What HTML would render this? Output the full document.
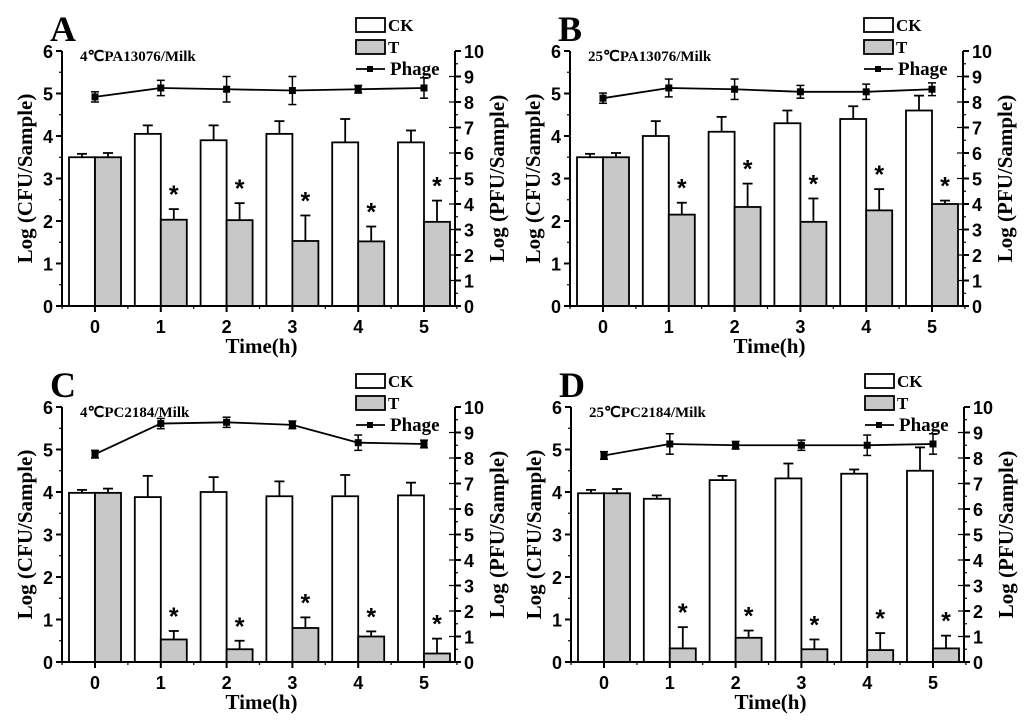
<!DOCTYPE html>
<html><head><meta charset="utf-8"><style>
body{margin:0;background:#fff;}
svg{display:block;}
.tk{font-family:"Liberation Sans",sans-serif;font-weight:bold;font-size:18px;}
.sr{font-family:"Liberation Serif",serif;font-weight:bold;}
</style></head><body>
<svg id="chart" width="1024" height="723" viewBox="0 0 1024 723" xmlns="http://www.w3.org/2000/svg"></svg>
<script>
const categories=[0,1,2,3,4,5];
const panelLetters=["A","B","C","D"];
const panelTitles=["4℃PA13076/Milk","25℃PA13076/Milk","4℃PC2184/Milk","25℃PC2184/Milk"];
const ckA=[3.5,4.05,3.9,4.05,3.85,3.85], ckErrA=[0.08,0.2,0.35,0.3,0.55,0.28];
const tA=[3.5,2.03,2.02,1.53,1.52,1.98], tErrA=[0.1,0.25,0.4,0.6,0.35,0.5];
const phA=[8.2,8.55,8.5,8.45,8.5,8.55], phErrA=[0.2,0.3,0.5,0.55,0.15,0.4];
const ckB=[3.5,4.0,4.1,4.3,4.4,4.6], ckErrB=[0.08,0.35,0.35,0.3,0.3,0.35];
const tB=[3.5,2.15,2.33,1.98,2.25,2.4], tErrB=[0.1,0.28,0.55,0.55,0.5,0.08];
const phB=[8.15,8.55,8.5,8.4,8.4,8.5], phErrB=[0.2,0.35,0.4,0.25,0.3,0.25];
const ckC=[3.98,3.88,4.0,3.9,3.9,3.92], ckErrC=[0.07,0.5,0.35,0.35,0.5,0.3];
const tC=[3.98,0.53,0.3,0.8,0.6,0.2], tErrC=[0.1,0.2,0.2,0.25,0.12,0.35];
const phC=[8.15,9.35,9.4,9.3,8.6,8.55], phErrC=[0.15,0.2,0.2,0.15,0.3,0.15];
const ckD=[3.97,3.84,4.28,4.32,4.43,4.5], ckErrD=[0.08,0.08,0.1,0.35,0.1,0.55];
const tD=[3.97,0.32,0.57,0.3,0.28,0.32], tErrD=[0.1,0.5,0.17,0.23,0.4,0.3];
const phD=[8.1,8.55,8.5,8.5,8.5,8.55], phErrD=[0.15,0.4,0.15,0.2,0.4,0.4];
const leftTicks=[0,1,2,3,4,5,6];
const rightTicks=[0,1,2,3,4,5,6,7,8,9,10];
const ckSets=[ckA,ckB,ckC,ckD], ckErrSets=[ckErrA,ckErrB,ckErrC,ckErrD];
const tSets=[tA,tB,tC,tD], tErrSets=[tErrA,tErrB,tErrC,tErrD];
const phSets=[phA,phB,phC,phD], phErrSets=[phErrA,phErrB,phErrC,phErrD];
const offsets=[[0,0],[508,0],[0,356],[509,356]];

const NS="http://www.w3.org/2000/svg";
const svg=document.getElementById("chart");
function mk(tag,attrs,parent,txt){const e=document.createElementNS(NS,tag);for(const k in attrs)e.setAttribute(k,attrs[k]);if(txt!==undefined)e.textContent=txt;parent.appendChild(e);return e;}

for(let p=0;p<4;p++){
  const [ox,oy]=offsets[p];
  const g=mk("g",{transform:`translate(${ox},${oy})`},svg);
  
  
  const L=62,R=455,T0=51,B0=306;
  const c0=95,c5=424;
  const xs=c=>c0+(c5-c0)*c/5;
  const yl=v=>B0-(B0-T0)*v/6;
  const yr=v=>B0-(B0-T0)*v/10;
  const bw=26;
  rightTicks.forEach(v=>{if(v>0&&v<10)mk("line",{x1:R-6,x2:R,y1:yr(v),y2:yr(v),stroke:"#000","stroke-width":1.2},g);});
  const ck=ckSets[p],ce=ckErrSets[p],tv=tSets[p],te=tErrSets[p];
  categories.forEach((c,i)=>{
    const x=xs(c);
    const b1=mk("rect",{x:x-bw,y:yl(ck[i]),width:bw,height:B0-yl(ck[i]),fill:"#fff",stroke:"#000","stroke-width":1.8},g);
    
    
    mk("line",{x1:x-bw/2,x2:x-bw/2,y1:yl(ck[i]),y2:yl(ck[i]+ce[i]),stroke:"#000","stroke-width":1.8},g);
    mk("line",{x1:x-bw/2-5,x2:x-bw/2+5,y1:yl(ck[i]+ce[i]),y2:yl(ck[i]+ce[i]),stroke:"#000","stroke-width":1.8},g);
    const b2=mk("rect",{x:x,y:yl(tv[i]),width:bw,height:B0-yl(tv[i]),fill:"#c8c8c8",stroke:"#000","stroke-width":1.8},g);
    
    
    mk("line",{x1:x+bw/2,x2:x+bw/2,y1:yl(tv[i]),y2:yl(tv[i]+te[i]),stroke:"#000","stroke-width":1.8},g);
    mk("line",{x1:x+bw/2-5,x2:x+bw/2+5,y1:yl(tv[i]+te[i]),y2:yl(tv[i]+te[i]),stroke:"#000","stroke-width":1.8},g);
    if(i>0){
      const s=mk("text",{x:x+bw/2,y:yl(tv[i]+te[i])-6,"text-anchor":"middle",style:"font-size:25px",class:"tk"},g,"*");
      
      
    }
  });
  const ph=phSets[p],pe=phErrSets[p];
  const pl=mk("polyline",{points:categories.map((c,i)=>xs(c)+","+yr(ph[i])).join(" "),fill:"none",stroke:"#000","stroke-width":1.8},g);
  
  
  categories.forEach((c,i)=>{
    const x=xs(c);
    mk("line",{x1:x,x2:x,y1:yr(ph[i]-pe[i]),y2:yr(ph[i]+pe[i]),stroke:"#000","stroke-width":1.5},g);
    mk("line",{x1:x-4,x2:x+4,y1:yr(ph[i]-pe[i]),y2:yr(ph[i]-pe[i]),stroke:"#000","stroke-width":1.5},g);
    mk("line",{x1:x-4,x2:x+4,y1:yr(ph[i]+pe[i]),y2:yr(ph[i]+pe[i]),stroke:"#000","stroke-width":1.5},g);
    const m=mk("rect",{x:x-3.5,y:yr(ph[i])-3.5,width:7,height:7,fill:"#000"},g);
    
    
  });
  mk("line",{x1:L,x2:L,y1:T0,y2:B0,stroke:"#000","stroke-width":2},g);
  mk("line",{x1:R,x2:R,y1:T0,y2:B0,stroke:"#000","stroke-width":2},g);
  mk("line",{x1:L,x2:R,y1:B0,y2:B0,stroke:"#000","stroke-width":2},g);
  leftTicks.forEach(v=>{
    mk("line",{x1:L-6,x2:L,y1:yl(v),y2:yl(v),stroke:"#000","stroke-width":2},g);
    if(v<6)mk("line",{x1:L-3,x2:L,y1:yl(v+0.5),y2:yl(v+0.5),stroke:"#000","stroke-width":1.2},g);
    mk("text",{x:L-9,y:yl(v)+7,"text-anchor":"end",class:"tk"},g,v);
  });
  rightTicks.forEach(v=>{
    mk("line",{x1:R,x2:R+6,y1:yr(v),y2:yr(v),stroke:"#000","stroke-width":2},g);
    if(v<10)mk("line",{x1:R,x2:R+3,y1:yr(v+0.5),y2:yr(v+0.5),stroke:"#000","stroke-width":1.2},g);
    mk("text",{x:R+9,y:yr(v)+7,"text-anchor":"start",class:"tk"},g,v);
  });
  categories.forEach(c=>{
    const x=xs(c);
    mk("line",{x1:x,x2:x,y1:B0,y2:B0+6,stroke:"#000","stroke-width":2},g);
    mk("line",{x1:x+(c5-c0)/10,x2:x+(c5-c0)/10,y1:B0,y2:B0+3,stroke:"#000","stroke-width":1.2},g);
    mk("text",{x:x,y:B0+27,"text-anchor":"middle",class:"tk"},g,c);
  });
  mk("line",{x1:c0-(c5-c0)/10,x2:c0-(c5-c0)/10,y1:B0,y2:B0+3,stroke:"#000","stroke-width":1.2},g);
  const xt=mk("text",{x:(L+R)/2+3,y:B0+47,"text-anchor":"middle",class:"sr","font-size":21},g,"Time(h)");
  
  
  const yt=mk("text",{transform:`translate(32,${(T0+B0)/2}) rotate(-90)`,"text-anchor":"middle",class:"sr","font-size":21},g,"Log (CFU/Sample)");
  
  
  const yt2=mk("text",{transform:`translate(504,${(T0+B0)/2}) rotate(-90)`,"text-anchor":"middle",class:"sr","font-size":21},g,"Log (PFU/Sample)");
  
  
  const lt=mk("text",{x:50,y:41,class:"sr","font-size":36},g,panelLetters[p]);
  
  
  const st=mk("text",{x:80,y:61,class:"sr","font-size":15},g,panelTitles[p]);
  
  
  const lg=mk("g",{},g);
  
  
  mk("rect",{x:356,y:18,width:29,height:14,fill:"#fff",stroke:"#000","stroke-width":1.8},lg);
  mk("text",{x:388,y:31,class:"sr","font-size":17},lg,"CK");
  mk("rect",{x:356,y:40,width:29,height:14,fill:"#c8c8c8",stroke:"#000","stroke-width":1.8},lg);
  mk("text",{x:388,y:53,class:"sr","font-size":17},lg,"T");
  mk("line",{x1:356,x2:385,y1:69,y2:69,stroke:"#000","stroke-width":1.8},lg);
  mk("rect",{x:367,y:66,width:6,height:6,fill:"#000"},lg);
  mk("text",{x:390,y:75,class:"sr","font-size":19},lg,"Phage");
}
</script>
</body></html>
